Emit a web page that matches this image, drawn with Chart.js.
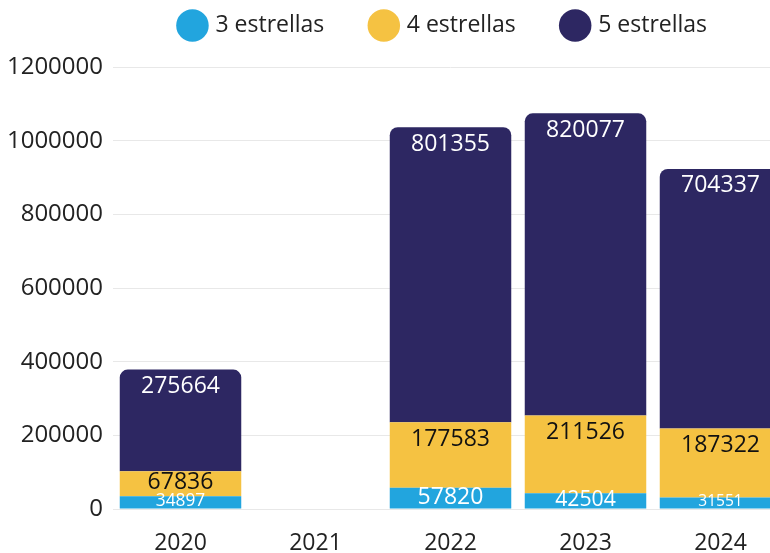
<!DOCTYPE html>
<html>
<head>
<meta charset="utf-8">
<script src="https://cdn.jsdelivr.net/npm/chart.js@4/dist/chart.umd.min.js"></script>
<style>
    html, body { margin: 0; padding: 0; overflow: hidden; background: #fff; }
    #chart { display: block; }
</style>
</head>
<body>
<canvas id="chart" width="890" height="553"></canvas>
<script>
const years = [ '2020', '2021', '2022', '2023', '2024' ];
const tres = [ 34897, null, 57820, 42504, 31551 ];
const cuatro = [ 67836, null, 177583, 211526, 187322 ];
const cinco = [ 275664, null, 801355, 820077, 704337 ];

const Colors = {
    blue: '#22A5DE',
    yellow: '#F5C242',
    navy: '#2D2762',
    text: '#222222',
    grid: '#E8E8E8'
};

const FONT = '"Open Sans", sans-serif';

// value labels drawn near the top of each segment
const segmentLabels = {
    id: 'segmentLabels',
    afterDatasetsDraw( chart ) {
        const ctx = chart.ctx;
        chart.data.datasets.forEach( ( ds, i ) => {
            const meta = chart.getDatasetMeta( i );
            meta.data.forEach( ( bar, j ) => {
                const v = ds.data[ j ];
                if ( v == null ) return;
                const h = bar.base - bar.y;
                const size = Math.min( 23, h * 1.4 );
                const y = Math.min( bar.y + 17, bar.y + h / 2 - 1 );
                ctx.save();
                ctx.font = size + 'px ' + FONT;
                ctx.fillStyle = ds.labelColor;
                ctx.textAlign = 'center';
                ctx.textBaseline = 'middle';
                ctx.fillText( String( v ), bar.x, y );
                ctx.restore();
            } );
        } );
    }
};

// legend height fixed, legend moved to sit over the plot
const legendBox = {
    id: 'legendBox',
    beforeInit( chart ) {
        const fit = chart.legend.fit;
        chart.legend.fit = function () {
            fit.call( this );
            this.height = 67;
        };
    },
    afterLayout( chart ) {
        chart.legend.left += 50;
        chart.legend.right += 50;
        chart.legend.top -= 34;
    }
};

new Chart( document.getElementById( 'chart' ).getContext( '2d' ), {
    type: 'bar',
    data: {
        labels: years,
        datasets: [
            { label: '3 estrellas', data: tres, backgroundColor: Colors.blue, labelColor: '#ffffff' },
            { label: '4 estrellas', data: cuatro, backgroundColor: Colors.yellow, labelColor: '#111111' },
            { label: '5 estrellas', data: cinco, backgroundColor: Colors.navy, labelColor: '#ffffff',
              borderRadius: { topLeft: 8, topRight: 8 }, borderSkipped: false }
        ]
    },
    options: {
        responsive: false,
        animation: false,
        categoryPercentage: 1,
        barPercentage: 0.9,
        layout: { padding: { left: 0, right: 102, top: 0, bottom: 0 } },
        plugins: {
            legend: {
                position: 'top',
                labels: {
                    usePointStyle: true,
                    pointStyle: 'circle',
                    boxWidth: 23,
                    boxHeight: 23,
                    padding: 48,
                    color: Colors.text,
                    font: { family: FONT, size: 23 }
                }
            },
            tooltip: { enabled: false }
        },
        scales: {
            x: {
                stacked: true,
                grid: { display: false },
                border: { display: false },
                afterFit( scale ) { scale.height = 44; },
                ticks: { color: Colors.text, font: { family: FONT, size: 23 }, padding: 13 }
            },
            y: {
                stacked: true,
                min: 0,
                max: 1200000,
                border: { display: false },
                grid: { color: Colors.grid, drawTicks: false },
                afterFit( scale ) { scale.width = 113; },
                ticks: {
                    stepSize: 200000,
                    color: Colors.text,
                    padding: 10,
                    font: { family: FONT, size: 24 },
                    callback: v => String( v )
                }
            }
        }
    },
    plugins: [ segmentLabels, legendBox ]
} );
</script>
</body>
</html>
